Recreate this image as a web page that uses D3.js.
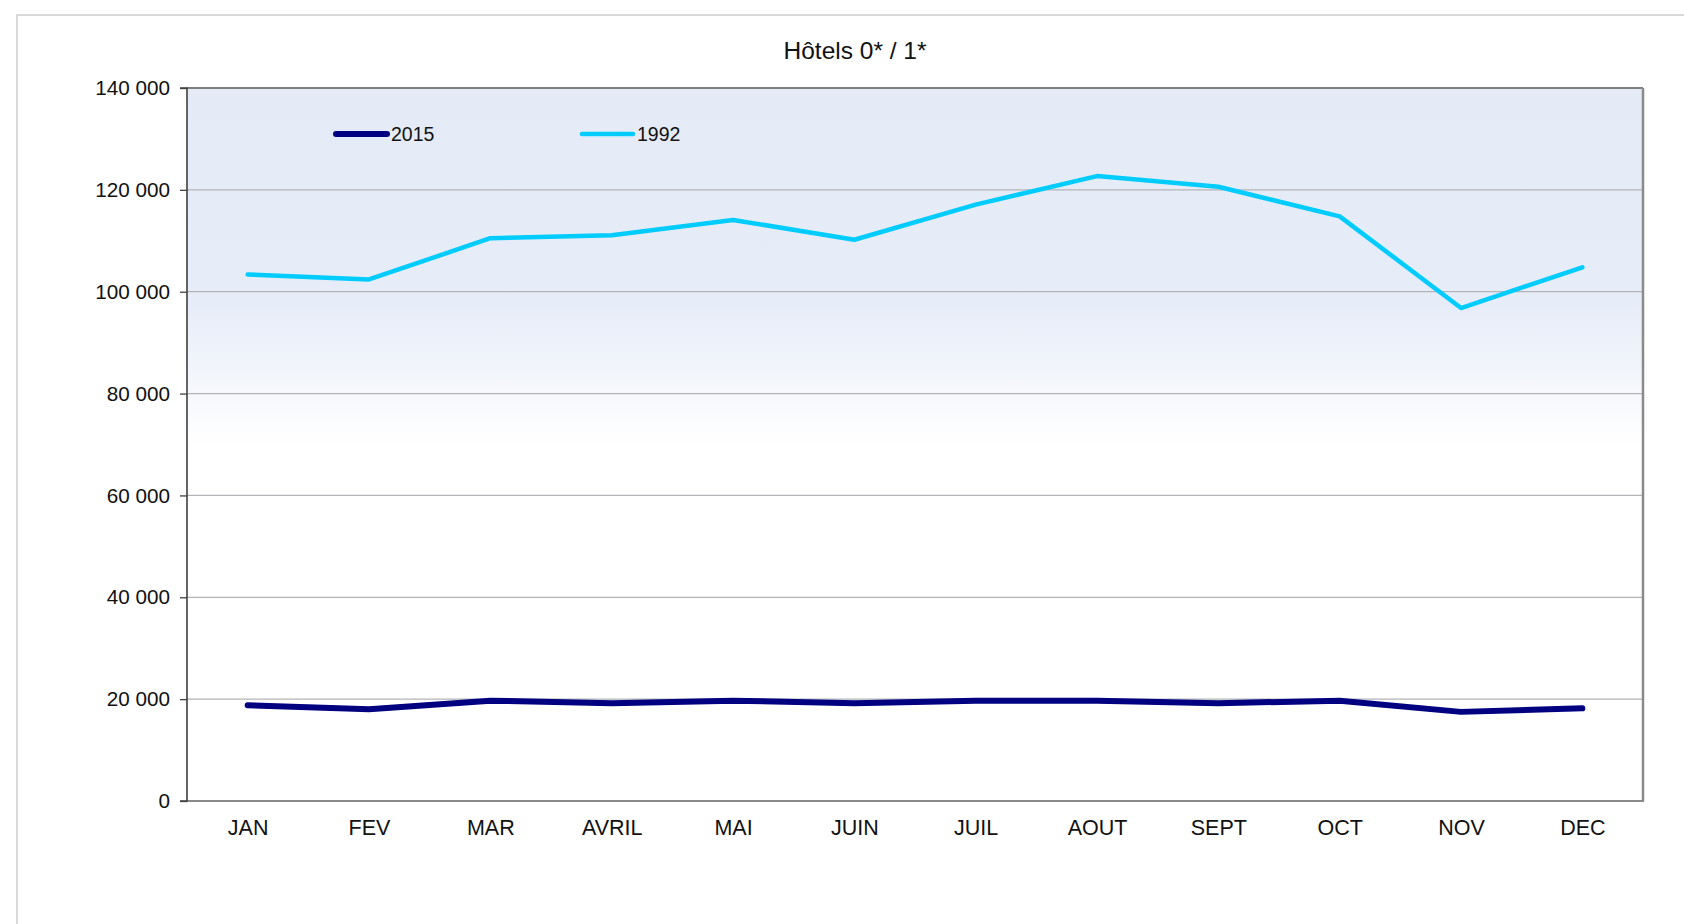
<!DOCTYPE html>
<html><head><meta charset="utf-8">
<script src="https://cdn.jsdelivr.net/npm/d3@7"></script>
<style>body{margin:0;background:#fff;font-family:"Liberation Sans",Arial,sans-serif;}</style>
</head><body><svg id="c" width="1684" height="924"></svg>
<script>
const months = ["JAN","FEV","MAR","AVRIL","MAI","JUIN","JUIL","AOUT","SEPT","OCT","NOV","DEC"];
const v2015 = [18800,18000,19700,19200,19700,19200,19700,19700,19200,19700,17500,18200];
const v1992 = [103400,102400,110500,111100,114100,110200,117100,122700,120600,114800,96800,104800];
const yTicks = [0,20000,40000,60000,80000,100000,120000,140000];
const seriesNames = ["2015","1992"];
const seriesColors = ["#000080","#00ccff"];

const svg = d3.select("#c");
const m = {l:187, r:1643, t:88, b:801};
// outer frame
svg.append("rect").attr("x",17).attr("y",15).attr("width",1700).attr("height",1000)
  .attr("fill","#fff").attr("stroke","#d9d9d9").attr("stroke-width",2);

const defs = svg.append("defs");
const g = defs.append("linearGradient").attr("id","bg").attr("x1",0).attr("y1",0).attr("x2",0).attr("y2",1);
g.append("stop").attr("offset","0%").attr("stop-color","#e4ebf7");
g.append("stop").attr("offset","30%").attr("stop-color","#e6ecf8");
g.append("stop").attr("offset","50%").attr("stop-color","#ffffff");
g.append("stop").attr("offset","100%").attr("stop-color","#ffffff");

const x = d3.scalePoint().domain(months).range([m.l, m.r]).padding(0.5);
const y = d3.scaleLinear().domain([0,140000]).range([m.b, m.t]);

svg.append("rect").attr("x",m.l).attr("y",m.t).attr("width",m.r-m.l).attr("height",m.b-m.t).attr("fill","url(#bg)");

// gridlines
svg.append("g").selectAll("line").data(yTicks.slice(1,-1)).join("line")
  .attr("x1",m.l).attr("x2",m.r).attr("y1",d=>y(d)).attr("y2",d=>y(d))
  .attr("stroke","#b4b4b8").attr("stroke-width",1.2);

// plot border
svg.append("line").attr("x1",m.l).attr("x2",m.r).attr("y1",m.t).attr("y2",m.t).attr("stroke","#7f7f7f").attr("stroke-width",2);
svg.append("line").attr("x1",m.r).attr("x2",m.r).attr("y1",m.t).attr("y2",m.b).attr("stroke","#8a8a8a").attr("stroke-width",2.5);
svg.append("line").attr("x1",m.l).attr("x2",m.r+1).attr("y1",m.b).attr("y2",m.b).attr("stroke","#8a8a8a").attr("stroke-width",2);

// y axis
const yAxis = d3.axisLeft(y).tickValues(yTicks).tickSize(7).tickPadding(10)
  .tickFormat(d => d3.format(",")(d).replace(/,/g," "));
const ya = svg.append("g").attr("transform",`translate(${m.l},0)`).call(yAxis);
ya.select(".domain").attr("stroke","#404040").attr("stroke-width",1.6).attr("d",`M-7,${m.t}H0V${m.b}H-7`);
ya.selectAll(".tick line").attr("stroke","#404040").attr("stroke-width",1.3);
ya.selectAll("text").attr("font-size",20.7).attr("fill","#111").attr("font-family","Liberation Sans, Arial, sans-serif");

// x axis
const xAxis = d3.axisBottom(x).tickSize(0).tickPadding(19);
const xa = svg.append("g").attr("transform",`translate(0,${m.b})`).call(xAxis);
xa.select(".domain").remove();
xa.selectAll("text").attr("font-size",21.5).attr("fill","#111").attr("font-family","Liberation Sans, Arial, sans-serif");

// lines
const line = d3.line().x((d,i)=>x(months[i])).y(d=>y(d));
svg.append("path").datum(v1992).attr("d",line).attr("fill","none").attr("stroke",seriesColors[1]).attr("stroke-width",4.5).attr("stroke-linejoin","round").attr("stroke-linecap","round");
svg.append("path").datum(v2015).attr("d",line).attr("fill","none").attr("stroke",seriesColors[0]).attr("stroke-width",6).attr("stroke-linejoin","round").attr("stroke-linecap","round");

// legend
const legX = [336, 582];
seriesNames.forEach((n,i)=>{
  svg.append("line").attr("x1",legX[i]).attr("x2",legX[i]+51).attr("y1",134).attr("y2",134)
    .attr("stroke",seriesColors[i]).attr("stroke-width",i===0?6:4.5).attr("stroke-linecap","round");
  svg.append("text").attr("x",legX[i]+55).attr("y",141).attr("font-size",19.5).attr("fill","#111").text(n);
});

// title
svg.append("text").attr("x",855).attr("y",59).attr("text-anchor","middle").attr("font-size",24.5).attr("fill","#111").text("Hôtels 0* / 1*");
</script></body></html>
